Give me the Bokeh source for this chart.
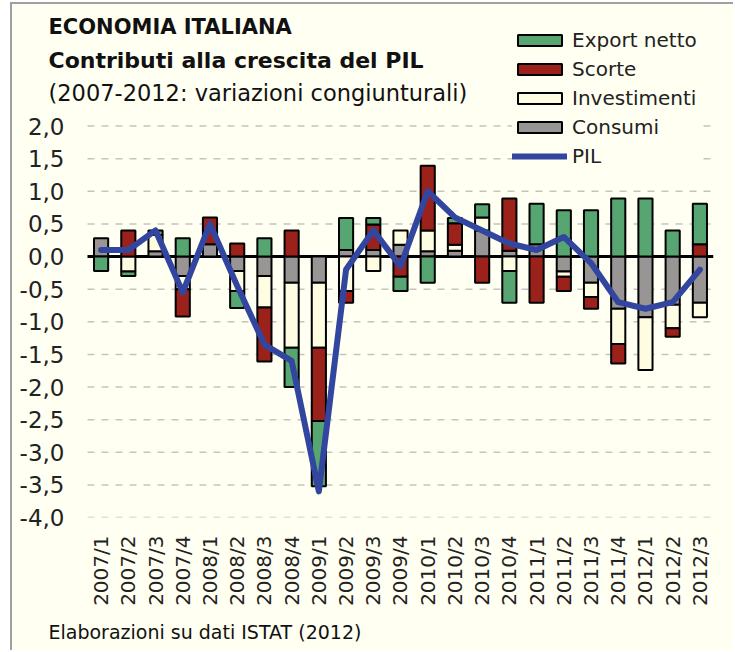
import math
import numpy as np
from bokeh.plotting import figure
from bokeh.models import (ColumnDataSource, FixedTicker, CustomJSTickFormatter,
                          Label, Legend, LegendItem, Range1d, Title)
from bokeh.embed import file_html
from bokeh.resources import INLINE

# ---------------- data ----------------
quarters = ["2007/1", "2007/2", "2007/3", "2007/4", "2008/1", "2008/2", "2008/3", "2008/4",
            "2009/1", "2009/2", "2009/3", "2009/4", "2010/1", "2010/2", "2010/3", "2010/4",
            "2011/1", "2011/2", "2011/3", "2011/4", "2012/1", "2012/2", "2012/3"]
consumi = [0.28, 0.0, 0.08, -0.30, 0.19, -0.22, -0.30, -0.40, -0.40, 0.10, 0.10, 0.18,
           0.08, 0.09, 0.40, 0.09, 0.19, -0.23, -0.40, -0.80, -0.93, -0.74, -0.71]
investimenti = [0.0, -0.23, 0.25, -0.20, 0.0, -0.31, -0.48, -1.00, -1.00, -0.53, -0.22, 0.22,
                0.32, 0.09, 0.20, -0.22, 0.0, -0.08, -0.22, -0.54, -0.81, -0.36, -0.22]
scorte = [0.0, 0.40, 0.0, -0.42, 0.41, 0.20, -0.83, 0.40, -1.12, -0.18, 0.39, -0.31,
          0.99, 0.33, -0.40, 0.80, -0.71, -0.22, -0.18, -0.30, 0.0, -0.13, 0.19]
export_netto = [-0.22, -0.07, 0.07, 0.28, 0.0, -0.26, 0.28, -0.60, -1.00, 0.49, 0.10, -0.22,
                -0.40, 0.08, 0.20, -0.49, 0.62, 0.71, 0.71, 0.89, 0.89, 0.40, 0.62]
pil = [0.1, 0.1, 0.4, -0.55, 0.5, -0.45, -1.35, -1.6, -3.6, -0.2, 0.4, -0.15,
       1.0, 0.6, 0.4, 0.2, 0.1, 0.3, -0.1, -0.7, -0.8, -0.7, -0.2]
y_ticks = [-4.0, -3.5, -3.0, -2.5, -2.0, -1.5, -1.0, -0.5, 0.0, 0.5, 1.0, 1.5, 2.0]

title1 = "ECONOMIA ITALIANA"
title2 = "Contributi alla crescita del PIL"
title3 = "(2007-2012: variazioni congiunturali)"
footer = "Elaborazioni su dati ISTAT (2012)"

# ---------------- style ----------------
BG = "#FFFFF2"
GREEN = "#57A570"
RED = "#9B221B"
CREAM = "#FFFDE1"
GRAY = "#9A9595"
BLUE = "#3246A0"
FONT = "DejaVu Sans"

W, H = 723, 648
ML, MR, MT, MB = 33, 22, 0, 133
n = len(quarters)
idx = list(range(n))

p = figure(x_range=Range1d(-2.043, n - 0.5), y_range=Range1d(-4.0, 3.863),
           width=W, height=H, output_backend="svg", toolbar_location=None,
           min_border_left=ML, min_border_right=MR, min_border_top=MT, min_border_bottom=MB,
           background_fill_color=BG, border_fill_color=BG, outline_line_color=None)
p.styles = {"margin-left": "10px", "margin-top": "2px",
            "border-left": "2px solid #a0a0a0", "border-top": "2px solid #a0a0a0"}

# y axis (labels pulled toward the plot with a negative standoff)
p.yaxis.ticker = FixedTicker(ticks=y_ticks)
p.yaxis.formatter = CustomJSTickFormatter(code="return tick.toFixed(1).replace('.', ',');")
p.yaxis.axis_line_color = None
p.yaxis.major_tick_line_color = None
p.yaxis.minor_tick_line_color = None
p.yaxis.major_label_text_font = FONT
p.yaxis.major_label_text_font_size = "23px"
p.yaxis.major_label_text_color = "#222222"
p.yaxis.major_label_standoff = -25

# x axis with quarter labels
p.xaxis.ticker = FixedTicker(ticks=idx)
p.xaxis.major_label_overrides = {i: q for i, q in zip(idx, quarters)}
p.xaxis.axis_line_color = None
p.xaxis.major_tick_line_color = None
p.xaxis.minor_tick_line_color = None
p.xaxis.major_label_orientation = math.pi / 2
p.xaxis.major_label_text_font = FONT
p.xaxis.major_label_text_font_size = "20px"
p.xaxis.major_label_text_color = "#222222"
p.xaxis.major_label_standoff = 12

p.grid.visible = False

# dashed horizontal gridlines spanning the category band only
grid_y = [t for t in y_ticks if t != 0]
p.segment(x0=[-0.5] * len(grid_y), x1=[n - 0.5] * len(grid_y), y0=grid_y, y1=grid_y,
          line_color="#C4C4C4", line_width=1.5, line_dash="7 7")
p.segment(x0=[-0.5], x1=[n - 0.5], y0=[0], y1=[0], line_color="black", line_width=3)

# stacked bars (positives stack up, negatives stack down)
series = [("Consumi", consumi, GRAY), ("Investimenti", investimenti, CREAM),
          ("Scorte", scorte, RED), ("Export netto", export_netto, GREEN)]
pos = np.zeros(n)
neg = np.zeros(n)
rends = {}
for name, vals, color in series:
    v = np.array(vals, dtype=float)
    bottom = np.where(v >= 0, pos, neg + v)
    top = np.where(v >= 0, pos + v, neg)
    pos = pos + np.clip(v, 0, None)
    neg = neg + np.clip(v, None, 0)
    mask = v != 0
    src = ColumnDataSource(dict(x=[i for i, m in zip(idx, mask) if m],
                                bottom=bottom[mask], top=top[mask]))
    rends[name] = p.vbar(x="x", bottom="bottom", top="top", width=0.52, source=src,
                         fill_color=color, line_color="black", line_width=2)

r_pil = p.line(x=idx, y=pil, line_color=BLUE, line_width=6,
               line_join="round", line_cap="round")

legend = Legend(items=[LegendItem(label="Export netto", renderers=[rends["Export netto"]]),
                       LegendItem(label="Scorte", renderers=[rends["Scorte"]]),
                       LegendItem(label="Investimenti", renderers=[rends["Investimenti"]]),
                       LegendItem(label="Consumi", renderers=[rends["Consumi"]]),
                       LegendItem(label="PIL", renderers=[r_pil])],
                location=(467, 349), glyph_width=55, glyph_height=14, label_standoff=5,
                spacing=5, padding=12, background_fill_color=BG, background_fill_alpha=1.0,
                border_line_color=None, label_text_font=FONT, label_text_font_size="20px",
                label_text_color="#222222", label_height=20)
p.add_layout(legend, "center")

# titles (screen units relative to the plot frame)
for txt, yy, bold, size in [(title1, 491, True, "21px"), (title2, 457, True, "22px"),
                            (title3, 425, False, "22.5px")]:
    p.add_layout(Label(x=3, y=yy, x_units="screen", y_units="screen", text=txt,
                       text_font=FONT, text_font_size=size,
                       text_font_style="bold" if bold else "normal",
                       text_baseline="middle", text_align="left", text_color="#111111"))

p.add_layout(Title(text=footer, align="left", offset=3, standoff=20, text_font=FONT,
                   text_font_size="19px", text_font_style="normal", text_color="#111111"),
             "below")

open("out.html", "w").write(file_html(p, INLINE))
